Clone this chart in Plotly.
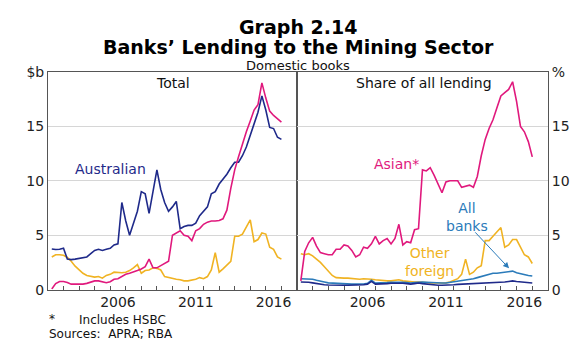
import plotly.graph_objects as go
import pandas as pd

# Quarterly observations (quarter ends), 2002 Q1 .. 2016 Q4
quarters = pd.date_range("2002-03-31", periods=60, freq="QE")

# Left panel: Total lending, $b
total_australian = [3.73, 3.68, 3.7, 3.8, 2.8, 2.75, 2.8, 2.85, 2.9, 3.0,
                    3.3, 3.6, 3.7, 3.6, 3.7, 3.8, 4.1, 4.2, 8.0, 6.3,
                    5.0, 6.2, 7.2, 9.0, 8.8, 7.0, 9.0, 11.0, 9.2, 8.0,
                    7.2, 7.6, 8.1, 5.6, 5.8, 5.9, 5.9, 6.1, 6.8, 7.2,
                    7.6, 8.8, 9.0, 9.7, 10.1, 10.6, 11.2, 11.7, 11.7, 12.3,
                    13.1, 14.2, 15.4, 16.3, 17.8, 16.5, 14.9, 14.8, 14.0, 13.8]
total_asian = [0.05, 0.55, 0.75, 0.75, 0.65, 0.5, 0.5, 0.5, 0.5, 0.57,
               0.68, 0.8, 0.8, 0.7, 0.63, 0.72, 0.95, 1.0, 1.2, 1.4,
               1.5, 1.6, 1.75, 1.9, 2.1, 2.8, 2.0, 2.0, 2.2, 2.4,
               2.6, 5.0, 5.2, 5.4, 5.0, 4.9, 4.5, 5.4, 5.6, 6.0,
               6.2, 6.3, 6.3, 6.35, 6.5, 7.3, 9.3, 11.0, 12.2, 13.4,
               14.5, 15.5, 16.5, 17.0, 19.0, 17.6, 16.4, 16.0, 15.7, 15.4]
total_other = [3.0, 3.2, 3.2, 3.15, 2.95, 2.6, 2.15, 1.8, 1.5, 1.3,
               1.2, 1.15, 1.2, 1.05, 1.3, 1.4, 1.6, 1.55, 1.55, 1.6,
               1.75, 2.0, 2.3, 1.5, 1.75, 1.8, 2.0, 1.95, 1.8, 1.2,
               1.1, 1.0, 0.95, 0.9, 0.8, 0.8, 0.85, 0.95, 1.1, 1.0,
               1.2, 1.8, 3.4, 1.6, 1.9, 2.25, 2.6, 4.9, 4.9, 5.1,
               5.8, 6.4, 4.4, 4.6, 5.2, 5.1, 3.9, 3.7, 3.0, 2.8]

# Right panel: Share of all lending, %
share_asian = [0.8, 3.5, 4.3, 4.8, 4.0, 3.4, 3.3, 3.2, 3.2, 3.7,
               3.7, 4.1, 4.0, 3.6, 3.0, 3.2, 3.9, 3.8, 4.2, 4.9,
               4.2, 4.5, 4.7, 4.2, 4.7, 6.0, 4.1, 4.4, 4.3, 5.5,
               5.6, 11.0, 10.9, 11.2, 10.5, 9.7, 8.9, 9.9, 10.0, 10.0,
               10.0, 9.4, 9.5, 9.6, 9.4, 10.4, 12.3, 13.8, 14.8, 15.6,
               16.7, 17.8, 18.1, 18.4, 19.1, 17.3, 15.0, 14.5, 13.6, 12.2]
share_other = [3.3, 3.2, 3.3, 3.1, 2.8, 2.5, 2.1, 1.65, 1.3, 1.1,
               1.05, 1.05, 1.05, 1.0, 0.95, 0.95, 1.0, 1.0, 0.95, 0.9,
               0.85, 0.8, 0.8, 0.8, 0.85, 0.9, 0.8, 0.75, 0.7, 0.7,
               0.7, 0.7, 0.65, 0.6, 0.6, 0.6, 0.6, 0.62, 0.7, 0.85,
               1.0, 1.4, 2.8, 1.4, 1.6, 2.0, 2.2, 4.5, 4.5, 4.9,
               5.3, 5.7, 3.9, 4.1, 4.6, 4.6, 3.9, 3.2, 3.0, 2.4]
share_all = [1.0, 1.0, 1.0, 0.95, 0.85, 0.8, 0.7, 0.62, 0.6, 0.55,
             0.5, 0.5, 0.5, 0.5, 0.5, 0.5, 0.52, 0.58, 0.85, 0.6,
             0.6, 0.62, 0.65, 0.68, 0.7, 0.7, 0.68, 0.65, 0.6, 0.65,
             0.7, 0.7, 0.68, 0.65, 0.6, 0.6, 0.6, 0.6, 0.65, 0.72,
             0.8, 0.85, 0.9, 0.95, 1.0, 1.1, 1.2, 1.3, 1.4, 1.5,
             1.5, 1.55, 1.6, 1.6, 1.7, 1.55, 1.45, 1.35, 1.3, 1.25]
share_australian = [0.7, 0.7, 0.68, 0.62, 0.55, 0.5, 0.45, 0.42, 0.4, 0.4,
                    0.4, 0.4, 0.4, 0.4, 0.42, 0.42, 0.45, 0.5, 0.75, 0.5,
                    0.5, 0.52, 0.55, 0.58, 0.6, 0.62, 0.58, 0.55, 0.5, 0.55,
                    0.6, 0.55, 0.5, 0.45, 0.42, 0.4, 0.4, 0.4, 0.42, 0.45,
                    0.48, 0.5, 0.5, 0.5, 0.5, 0.52, 0.55, 0.58, 0.6, 0.62,
                    0.65, 0.68, 0.7, 0.75, 0.8, 0.75, 0.7, 0.65, 0.62, 0.6]

year_label_vals = ["2006-07-01", "2011-07-01", "2016-07-01"]
year_label_text = ["2006", "2011", "2016"]
year_tick_vals = [f"{y}-01-01" for y in range(2003, 2018)]
left_y_text = ["0", "5", "10", "15", "$b"]
right_y_text = ["0", "5", "10", "15", "%"]
y_vals = [0, 5, 10, 15, 20]

NAVY = "#1f2a8a"
MAGENTA = "#e0197d"
YELLOW = "#f0b323"
LBLUE = "#2b7bba"
FONT = "DejaVu Sans"
AXC = "#555555"

fig = go.Figure()
lw = 1.6
fig.add_trace(go.Scatter(x=quarters, y=total_other, mode="lines", line=dict(color=YELLOW, width=lw), xaxis="x", yaxis="y"))
fig.add_trace(go.Scatter(x=quarters, y=total_australian, mode="lines", line=dict(color=NAVY, width=lw), xaxis="x", yaxis="y"))
fig.add_trace(go.Scatter(x=quarters, y=total_asian, mode="lines", line=dict(color=MAGENTA, width=lw), xaxis="x", yaxis="y"))

fig.add_trace(go.Scatter(x=quarters, y=share_other, mode="lines", line=dict(color=YELLOW, width=lw), xaxis="x2", yaxis="y2"))
fig.add_trace(go.Scatter(x=quarters, y=share_all, mode="lines", line=dict(color=LBLUE, width=lw), xaxis="x2", yaxis="y2"))
fig.add_trace(go.Scatter(x=quarters, y=share_australian, mode="lines", line=dict(color=NAVY, width=lw), xaxis="x2", yaxis="y2"))
fig.add_trace(go.Scatter(x=quarters, y=share_asian, mode="lines", line=dict(color=MAGENTA, width=lw), xaxis="x2", yaxis="y2"))

W, H = 580, 352
xl0, xm, xr1 = 48, 297, 548
yt, yb = 67, 295

xcommon = dict(type="date", range=["2002-01-01", "2018-01-01"], tickmode="array",
               tickvals=year_label_vals, ticktext=year_label_text, ticks="",
               showline=True, mirror=True, linecolor=AXC, linewidth=1,
               showgrid=False, zeroline=False,
               tickfont=dict(family=FONT, size=14, color="#222"),
               minor=dict(tickmode="array", tickvals=year_tick_vals, ticks="inside",
                          ticklen=4, tickcolor=AXC, showgrid=False))
ycommon = dict(range=[0, 20], tickmode="array", tickvals=y_vals, ticks="",
               showline=True, mirror=True, linecolor=AXC, linewidth=1,
               showgrid=True, gridcolor="#d6d6d6", gridwidth=1, zeroline=False,
               tickfont=dict(family=FONT, size=14, color="#222"))

fig.update_layout(
    width=W, height=H, autosize=False,
    margin=dict(l=0, r=0, t=0, b=0),
    paper_bgcolor="white", plot_bgcolor="white",
    showlegend=False,
    xaxis=dict(xcommon, domain=[xl0 / W, xm / W], anchor="y"),
    xaxis2=dict(xcommon, domain=[xm / W, xr1 / W], anchor="y2"),
    yaxis=dict(ycommon, domain=[1 - yb / H, 1 - yt / H], anchor="x", side="left", ticktext=left_y_text),
    yaxis2=dict(ycommon, domain=[1 - yb / H, 1 - yt / H], anchor="x2", side="right", ticktext=right_y_text),
)

def pa(text, x, y, size, color="#111", bold=False, xanchor="center"):
    t = f"<b>{text}</b>" if bold else text
    fig.add_annotation(text=t, x=x / W, y=1 - y / H, xref="paper", yref="paper",
                       xanchor=xanchor, yanchor="middle", showarrow=False,
                       font=dict(family=FONT, size=size, color=color))

pa("Graph 2.14", 298, 19.5, 19, "#000", True)
pa("Banks’ Lending to the Mining Sector", 298, 40.5, 19, "#000", True)
pa("Domestic books", 298, 60, 13, "#111")
pa("*", 47, 326, 12, "#111", xanchor="left")
pa("Includes HSBC", 77, 326.5, 12, "#111", xanchor="left")
pa("Sources:  APRA; RBA", 47, 341.5, 12, "#111", xanchor="left")

def da(text, x, y, xr, yr, color, size=14):
    fig.add_annotation(text=text, x=x, y=y, xref=xr, yref=yr, showarrow=False,
                       xanchor="center", yanchor="middle",
                       font=dict(family=FONT, size=size, color=color))

da("Total", "2010-01-01", 19.0, "x", "y", "#111")
da("Australian", "2006-01-15", 11.1, "x", "y", NAVY)
da("Share of all lending", "2010-02-15", 19.0, "x2", "y2", "#111")
da("Asian*", "2008-05-15", 11.5, "x2", "y2", MAGENTA)
da("All<br>banks", "2012-11-01", 6.7, "x2", "y2", LBLUE)
da("Other<br>foreign", "2010-06-15", 2.5, "x2", "y2", YELLOW)

fig.add_annotation(x="2015-07-10", y=1.95, ax="2013-04-10", ay=5.4,
                   xref="x2", yref="y2", axref="x2", ayref="y2",
                   showarrow=True, arrowhead=2, arrowsize=1.2, arrowwidth=1,
                   arrowcolor=LBLUE, text="")

fig.write_html("out.html")
